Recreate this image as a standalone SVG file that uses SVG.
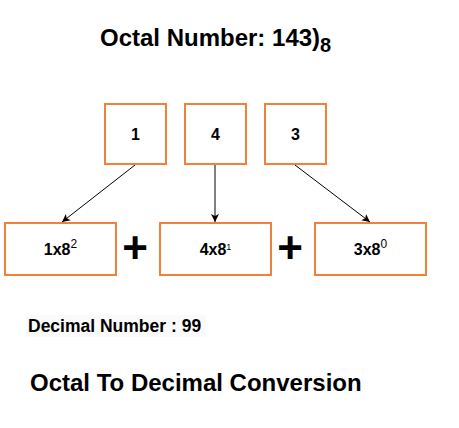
<svg xmlns="http://www.w3.org/2000/svg" width="459" height="428" viewBox="0 0 459 428">
<style>
.box{fill:#fff;stroke:#F0803A;stroke-width:2}
.t{font-family:"Liberation Sans",Arial,sans-serif;font-weight:bold;fill:#000}
.n{font-size:16px;text-anchor:middle}
.c{stroke:#000;stroke-width:1;fill:none}
</style>
<defs>
<marker id="ah" markerWidth="10" markerHeight="10" refX="8" refY="5" orient="auto" markerUnits="userSpaceOnUse">
<path d="M0,1 L8,5 L0,9 L2,5 Z" fill="#000"/>
</marker>
</defs>
<rect width="459" height="428" fill="#fff"/>
<text class="t" x="100" y="46" font-size="24">Octal Number: 143)<tspan font-size="20" dy="6">8</tspan></text>
<g id="n1"><rect class="box" x="105" y="104" width="61" height="60"/><text class="t n" x="135.5" y="140">1</text></g>
<g id="n4"><rect class="box" x="185" y="104" width="61" height="60"/><text class="t n" x="215.5" y="140">4</text></g>
<g id="n3"><rect class="box" x="265" y="104" width="61" height="60"/><text class="t n" x="295.5" y="140">3</text></g>
<g id="p2"><rect class="box" x="5" y="223" width="111" height="52"/><text class="t n" x="60.5" y="255">1x8<tspan font-size="12" font-weight="normal" dy="-7">2</tspan></text></g>
<g id="p1"><rect class="box" x="160" y="223" width="111" height="52"/><text class="t n" x="215.5" y="255">4x8<tspan font-size="9" font-weight="normal" dy="-5">1</tspan></text></g>
<g id="p0"><rect class="box" x="315" y="223" width="111" height="52"/><text class="t n" x="370.5" y="255">3x8<tspan font-size="12" font-weight="normal" dy="-7">0</tspan></text></g>
<g id="connectors">
<line class="c" x1="135" y1="165" x2="62" y2="222" marker-end="url(#ah)"/>
<line class="c" x1="215" y1="165" x2="215" y2="222" marker-end="url(#ah)"/>
<line class="c" x1="295" y1="165" x2="370" y2="222" marker-end="url(#ah)"/>
</g>
<text class="t" x="135" y="263" font-size="44" text-anchor="middle">+</text>
<text class="t" x="290" y="263" font-size="44" text-anchor="middle">+</text>
<rect x="26" y="315" width="180" height="22" fill="#fafafa"/>
<text class="t" x="28" y="332" font-size="17.5">Decimal Number : 99</text>
<text class="t" x="30" y="391" font-size="24">Octal To Decimal Conversion</text>
</svg>
